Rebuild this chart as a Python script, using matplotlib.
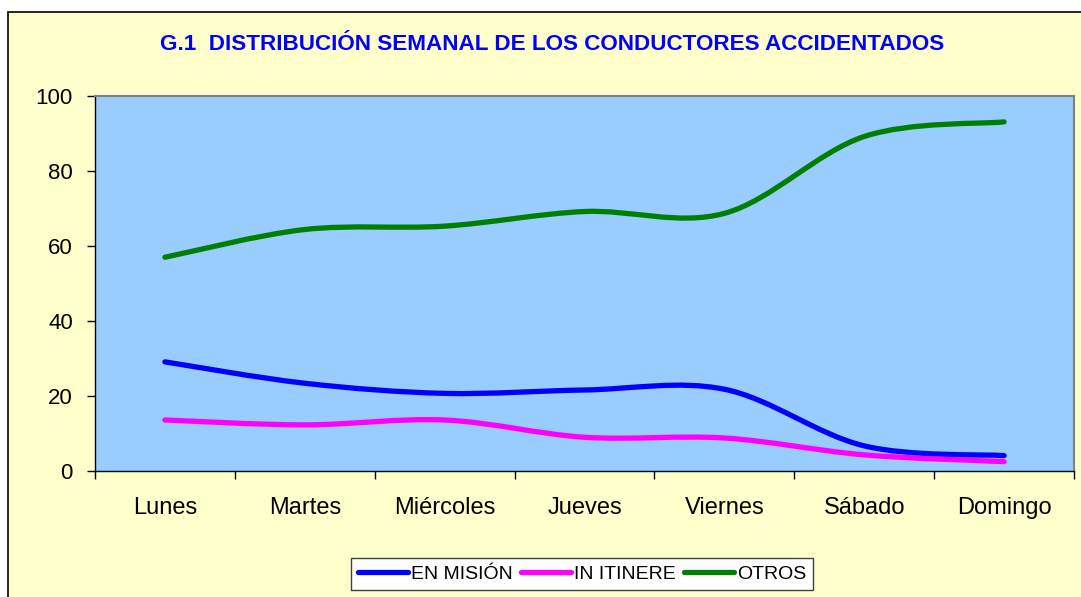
import matplotlib
matplotlib.use('Agg')
import matplotlib.pyplot as plt
from matplotlib.path import Path
from matplotlib.patches import PathPatch, Rectangle
from matplotlib.lines import Line2D

dias = ['Lunes', 'Martes', 'Miércoles', 'Jueves', 'Viernes', 'Sábado', 'Domingo']
en_mision = [29.1, 23.4, 20.7, 21.6, 21.8, 6.7, 4.1]
in_itinere = [13.6, 12.3, 13.6, 9.0, 8.8, 4.3, 2.5]
otros = [57.0, 64.4, 65.3, 69.2, 68.7, 89.2, 93.1]

series = [('EN MISIÓN', en_mision, '#0000FF'),
          ('IN ITINERE', in_itinere, '#FF00FF'),
          ('OTROS', otros, '#008000')]

plt.rcParams['font.family'] = ['Liberation Sans', 'DejaVu Sans']

fig = plt.figure(figsize=(10.81, 5.97), dpi=100)
fig.patch.set_facecolor('white')
# fondo amarillo del grafico (como en excel)
fig.patches.append(Rectangle((8 / 1081, -0.01), 1.0, (597 - 12) / 597 + 0.01,
                             transform=fig.transFigure, facecolor='#FFFFCC',
                             edgecolor='black', lw=1.2, zorder=-10))

ax = fig.add_axes([95 / 1081, (597 - 471) / 597, (1074 - 95) / 1081, 375 / 597])
ax.set_facecolor('#99CCFF')


def suave(xs, ys):
    # linea suavizada tipo excel (bezier catmull-rom)
    pts = list(zip(xs, ys))
    verts = [pts[0]]
    codes = [Path.MOVETO]
    n = len(pts)
    for i in range(n - 1):
        p0 = pts[i - 1] if i > 0 else pts[i]
        p1 = pts[i]
        p2 = pts[i + 1]
        p3 = pts[i + 2] if i + 2 < n else pts[i + 1]
        c1 = (p1[0] + (p2[0] - p0[0]) / 6, p1[1] + (p2[1] - p0[1]) / 6)
        c2 = (p2[0] - (p3[0] - p1[0]) / 6, p2[1] - (p3[1] - p1[1]) / 6)
        verts += [c1, c2, p2]
        codes += [Path.CURVE4] * 3
    return Path(verts, codes)


x = [i + 0.5 for i in range(len(dias))]
handles = []
for nombre, vals, col in series:
    p = PathPatch(suave(x, vals), facecolor='none', edgecolor=col, lw=3.8,
                  capstyle='round', joinstyle='round', zorder=3)
    ax.add_patch(p)
    handles.append(Line2D([], [], color=col, lw=3.8, solid_capstyle='round'))

ax.set_xlim(0, len(dias))
ax.set_ylim(0, 100)
ax.set_yticks(range(0, 101, 20))
ax.set_xticks(range(len(dias) + 1))
ax.set_xticklabels([])
ax.set_xticks(x, minor=True)
ax.set_xticklabels(dias, minor=True)
ax.tick_params(axis='x', which='major', direction='out', length=6, width=1)
ax.tick_params(axis='x', which='minor', length=0, pad=19, labelsize=17)
ax.tick_params(axis='y', direction='out', length=6, width=1, pad=10, labelsize=16)

for s in ['top', 'right']:
    ax.spines[s].set_color('#808080')
    ax.spines[s].set_linewidth(1.5)
for s in ['left', 'bottom']:
    ax.spines[s].set_color('black')
    ax.spines[s].set_linewidth(1)

fig.text(552 / 1081, 1 - 44 / 597, 'G.1  DISTRIBUCIÓN SEMANAL DE LOS CONDUCTORES ACCIDENTADOS',
         color='#0000FF', fontsize=16.2, fontweight='bold', ha='center', va='center')

leg = fig.legend(handles, [s[0] for s in series], loc='center',
                 bbox_to_anchor=(582 / 1081, 1 - 574 / 597), ncol=3, fontsize=14,
                 frameon=True, fancybox=False, edgecolor='#404040', facecolor='white',
                 framealpha=1, handlelength=2.6, handletextpad=0.15, columnspacing=0.4,
                 borderpad=0.35, borderaxespad=0)
leg.get_frame().set_linewidth(1)

plt.savefig('out.png', dpi=100)
